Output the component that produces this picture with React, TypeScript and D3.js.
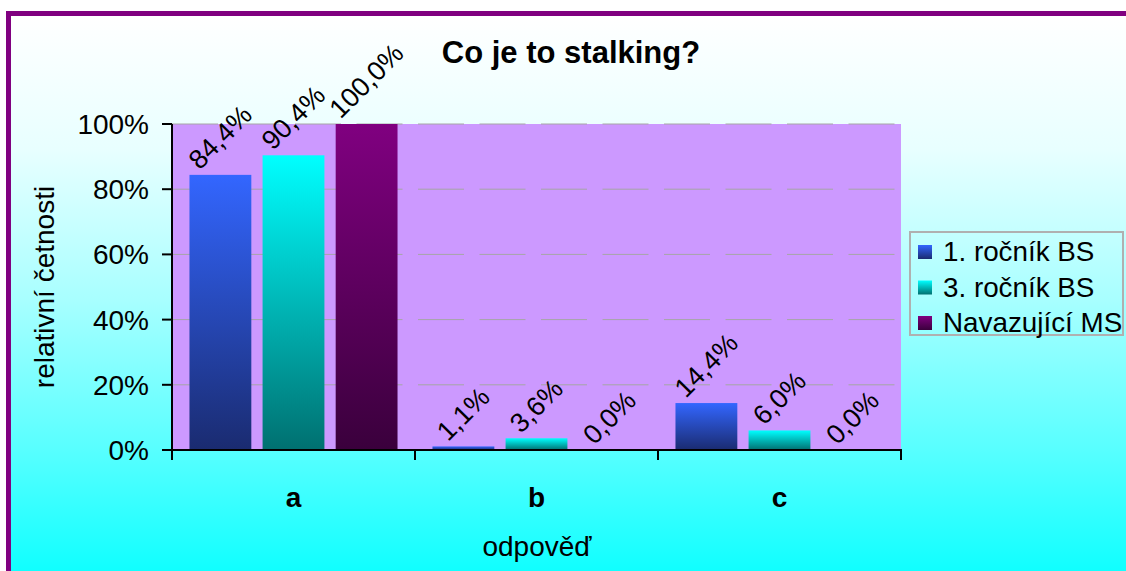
import React, { useEffect, useRef } from 'react';
import * as d3 from 'd3';

const categories = ['a', 'b', 'c'];
const seriesNames = ['1. ročník BS', '3. ročník BS', 'Navazující MS'];
const series1 = [0.844, 0.011, 0.144];
const series2 = [0.904, 0.036, 0.06];
const series3 = [1.0, 0.0, 0.0];
const yTicks = [0, 0.2, 0.4, 0.6, 0.8, 1.0];

const FONT = "Arial, 'Liberation Sans', sans-serif";
const barColors = [
  ['#3366ff', '#1a2b70'],
  ['#00ffff', '#007070'],
  ['#800080', '#3a003c'],
];

const App = () => {
  const svgRef = useRef<SVGSVGElement>(null);

  useEffect(() => {
    document.body.style.margin = '0';
    const svg = d3.select(svgRef.current);
    svg.selectAll('*').remove();
    const W = 1126, H = 571;
    const plot = { left: 172, right: 901, top: 124, bottom: 450 };

    const defs = svg.append('defs');
    const bg = defs.append('linearGradient').attr('id', 'bg')
      .attr('gradientUnits', 'userSpaceOnUse')
      .attr('x1', 0).attr('x2', 0).attr('y1', 16).attr('y2', 571);
    [[0, '#ffffff'], [0.24, '#e8ffff'], [0.51, '#a8ffff'], [0.78, '#58ffff'], [1, '#10ffff']]
      .forEach(([o, c]) => bg.append('stop').attr('offset', o as number).attr('stop-color', c as string));
    barColors.forEach((c, i) => {
      const g = defs.append('linearGradient').attr('id', `bar${i}`)
        .attr('x1', 0).attr('x2', 0).attr('y1', 0).attr('y2', 1);
      g.append('stop').attr('offset', 0).attr('stop-color', c[0]);
      g.append('stop').attr('offset', 1).attr('stop-color', c[1]);
    });

    svg.append('rect').attr('width', W).attr('height', H).attr('fill', '#ffffff');
    svg.append('rect')
      .attr('x', 8.5).attr('y', 13.5).attr('width', W + 20).attr('height', H + 20)
      .attr('fill', 'url(#bg)').attr('stroke', '#800080').attr('stroke-width', 5);

    // plot area
    svg.append('rect')
      .attr('x', plot.left).attr('y', plot.top)
      .attr('width', plot.right - plot.left).attr('height', plot.bottom - plot.top)
      .attr('fill', '#cc99ff');

    const x0 = d3.scaleBand().domain(categories).range([plot.left, plot.right]);
    const x1 = d3.scaleBand().domain(['0', '1', '2']).range([0, x0.bandwidth()])
      .paddingInner(0.154).paddingOuter(0.239);
    const y = d3.scaleLinear().domain([0, 1]).range([plot.bottom, plot.top]);

    // gridlines
    svg.append('g').selectAll('line').data(yTicks.slice(1)).join('line')
      .attr('x1', plot.left).attr('x2', plot.right)
      .attr('y1', d => y(d)).attr('y2', d => y(d))
      .attr('stroke', '#a6a6a6').attr('stroke-width', 1)
      .attr('stroke-dasharray', '46,15.5');

    const allSeries = [series1, series2, series3];
    const rows = categories.flatMap((c, ci) =>
      allSeries.map((s, si) => ({ c, si, v: s[ci] })));

    const bars = svg.append('g');
    bars.selectAll('rect').data(rows).join('rect')
      .attr('x', d => x0(d.c)! + x1(String(d.si))!)
      .attr('y', d => y(d.v))
      .attr('width', x1.bandwidth())
      .attr('height', d => y(0) - y(d.v))
      .attr('fill', d => `url(#bar${d.si})`);

    // data labels, rotated -45deg, bounding box sitting on bar top
    const lbl = svg.append('g');
    rows.forEach(d => {
      const txt = d3.format('.1f')(d.v * 100).replace('.', ',') + '%';
      const cx = x0(d.c)! + x1(String(d.si))! + x1.bandwidth() / 2;
      const t = lbl.append('text')
        .attr('font-family', FONT).attr('font-size', 27)
        .attr('text-anchor', 'middle').attr('dominant-baseline', 'central')
        .attr('fill', '#000').text(txt);
      const L = (t.node() as SVGTextElement).getComputedTextLength();
      const half = (L + 24) / (2 * Math.SQRT2);
      const cy = y(d.v) - 2 - half;
      t.attr('transform', `translate(${cx},${cy}) rotate(-45)`);
    });

    // axes
    const ax = svg.append('g').attr('stroke', '#000').attr('stroke-width', 2);
    ax.append('line').attr('x1', plot.left).attr('x2', plot.left)
      .attr('y1', plot.top).attr('y2', plot.bottom + 10);
    ax.append('line').attr('x1', plot.left - 10).attr('x2', plot.right + 1)
      .attr('y1', plot.bottom).attr('y2', plot.bottom);
    ax.selectAll('.yt').data(yTicks).join('line')
      .attr('x1', plot.left - 10).attr('x2', plot.left)
      .attr('y1', d => y(d)).attr('y2', d => y(d));
    const xb = [...categories.map(c => x0(c)!), plot.right];
    ax.selectAll('.xt').data(xb).join('line')
      .attr('x1', d => d).attr('x2', d => d)
      .attr('y1', plot.bottom).attr('y2', plot.bottom + 10);

    svg.append('g').selectAll('text').data(yTicks).join('text')
      .attr('x', 149).attr('y', d => y(d) + 10)
      .attr('text-anchor', 'end').attr('font-family', FONT).attr('font-size', 28)
      .text(d => `${Math.round(d * 100)}%`);

    svg.append('g').selectAll('text').data(categories).join('text')
      .attr('x', d => x0(d)! + x0.bandwidth() / 2).attr('y', 507)
      .attr('text-anchor', 'middle').attr('font-family', FONT)
      .attr('font-size', 28).attr('font-weight', 'bold')
      .text(d => d);

    svg.append('text').attr('x', 537).attr('y', 556)
      .attr('text-anchor', 'middle').attr('font-family', FONT).attr('font-size', 28)
      .text('odpověď');

    svg.append('text')
      .attr('transform', 'translate(44,287) rotate(-90)')
      .attr('text-anchor', 'middle').attr('dominant-baseline', 'central')
      .attr('font-family', FONT).attr('font-size', 28)
      .text('relativní četnosti');

    svg.append('text').attr('x', 571).attr('y', 63)
      .attr('text-anchor', 'middle').attr('font-family', FONT)
      .attr('font-size', 31).attr('font-weight', 'bold')
      .text('Co je to stalking?');

    // legend
    const lg = svg.append('g');
    lg.append('rect').attr('x', 910).attr('y', 232).attr('width', 213).attr('height', 103)
      .attr('fill', 'none').attr('stroke', '#b0b0b0').attr('stroke-width', 2);
    seriesNames.forEach((n, i) => {
      const cy = 252 + i * 35.5;
      lg.append('rect').attr('x', 918).attr('y', cy - 7).attr('width', 14).attr('height', 14)
        .attr('fill', `url(#bar${i})`);
      lg.append('text').attr('x', 943).attr('y', cy + 9)
        .attr('font-family', FONT).attr('font-size', 27.8).text(n);
    });
  }, []);

  return <svg ref={svgRef} width={1126} height={571} style={{ display: 'block' }} />;
};

export default App;
